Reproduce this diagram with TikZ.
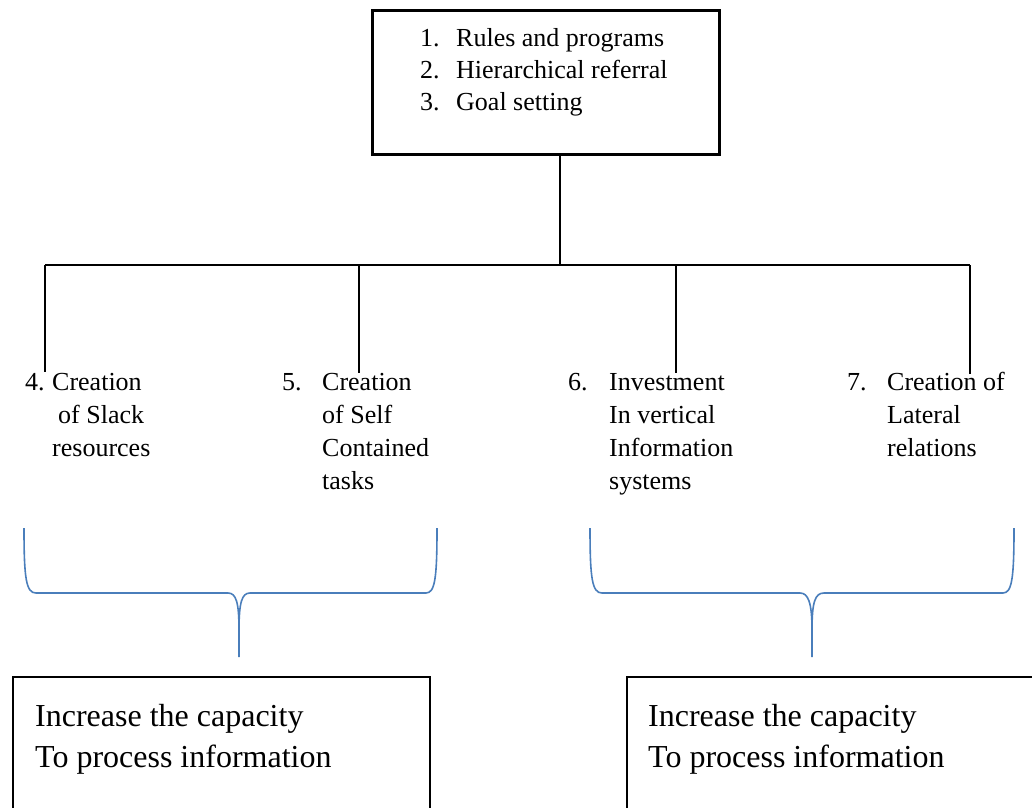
\documentclass[tikz,border=0pt]{standalone}
\usepackage{fontspec}
\setmainfont{Liberation Serif}
\usepackage{array}
\definecolor{braceblue}{RGB}{74,126,187}
\begin{document}
\begin{tikzpicture}[x=1pt,y=-1pt,
  conn/.style={line width=1.6pt},
  framebox/.style={draw, line width=2.6pt, anchor=north west, inner sep=0pt},
  brace/.style={draw=braceblue, line width=1.6pt},
  lbl/.style={anchor=base west, inner sep=0pt, font=\fontsize{26}{33}\selectfont},
  toplbl/.style={anchor=base west, inner sep=0pt, font=\fontsize{26}{32}\selectfont},
  reslbl/.style={anchor=base west, inner sep=0pt, font=\fontsize{32}{41}\selectfont}]
\useasboundingbox (0,0) rectangle (1032,807);
\clip (0,0) rectangle (1032,807);
% top box
\node[framebox, minimum width=347pt, minimum height=144pt] (top) at (371,9) {};
\node[toplbl] (toptext) at (420,46) {\begin{tabular}[t]{@{}p{36pt}@{}l@{}}1. & Rules and programs\\ 2. & Hierarchical referral\\ 3. & Goal setting\end{tabular}};
% connectors
\coordinate (bus) at (560,265);
\coordinate (b4) at (45,265);
\coordinate (b5) at (359,265);
\coordinate (b6) at (676,265);
\coordinate (b7) at (970,265);
\coordinate (e4) at (45,372);
\coordinate (e5) at (359,373);
\coordinate (e6) at (676,373);
\coordinate (e7) at (970,374);
\draw[conn] (top.south -| bus) -- (bus);
\draw[conn] (b4) -- (b7);
\draw[conn] (b4) -- (e4);
\draw[conn] (b5) -- (e5);
\draw[conn] (b6) -- (e6);
\draw[conn] (b7) -- (e7);
% items
\node[lbl] (i4) at (25,390) {\begin{tabular}[t]{@{}p{27pt}@{}l@{}}4. & Creation\\ & \hspace*{6pt}of Slack\\ & resources\end{tabular}};
\node[lbl] (i5) at (282,390) {\begin{tabular}[t]{@{}p{40pt}@{}l@{}}5. & Creation\\ & of Self\\ & Contained\\ & tasks\end{tabular}};
\node[lbl] (i6) at (568,390) {\begin{tabular}[t]{@{}p{41pt}@{}l@{}}6. & Investment\\ & In vertical\\ & Information\\ & systems\end{tabular}};
\node[lbl] (i7) at (847,390) {\begin{tabular}[t]{@{}p{40pt}@{}l@{}}7. & Creation of\\ & Lateral\\ & relations\end{tabular}};
% braces
\draw[brace] (24,528) .. controls (24,578) and (26,593) .. (36,593) -- (228,593)
  .. controls (236,593) and (239,602) .. (239,630) -- (239,657);
\draw[brace] (239,630) .. controls (239,602) and (242,593) .. (250,593) -- (426,593)
  .. controls (435,593) and (437,578) .. (437,528);
\draw[brace] (590,528) .. controls (590,578) and (592,593) .. (602,593) -- (800,593)
  .. controls (808,593) and (812,602) .. (812,630) -- (812,657);
\draw[brace] (812,630) .. controls (812,602) and (815,593) .. (824,593) -- (1003,593)
  .. controls (1012,593) and (1014,578) .. (1014,528);
% result boxes
\node[framebox, line width=2.2pt, minimum width=417pt, minimum height=200pt] (res1) at (12,676) {};
\node[framebox, line width=2.2pt, minimum width=440pt, minimum height=200pt] (res2) at (626,676) {};
\node[reslbl] (res1text) at (35,726) {\begin{tabular}[t]{@{}l@{}}Increase the capacity\\ To process information\end{tabular}};
\node[reslbl] (res2text) at (648,726) {\begin{tabular}[t]{@{}l@{}}Increase the capacity\\ To process information\end{tabular}};
\end{tikzpicture}
\end{document}
